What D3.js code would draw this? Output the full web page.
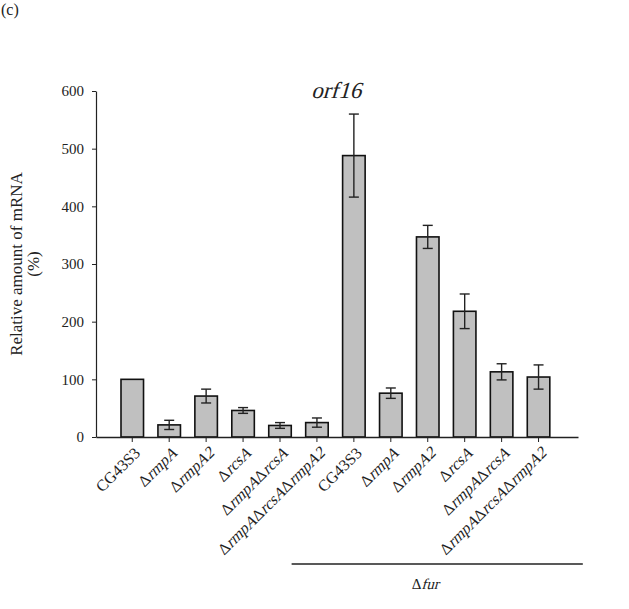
<!DOCTYPE html>
<html>
<head>
<meta charset="utf-8">
<script src="https://cdn.jsdelivr.net/npm/d3@7"></script>
<style>
  body { margin: 0; background: #fff; }
  svg text { font-family: "Liberation Serif", "DejaVu Serif", serif; fill: #222; }
</style>
</head>
<body>
<svg id="chart"></svg>
<script>
// strain labels as [text, italic] segments
const strains = [
  [['CG43S3', false]],
  [['Δ', false], ['rmpA', true]],
  [['Δ', false], ['rmpA2', true]],
  [['Δ', false], ['rcsA', true]],
  [['Δ', false], ['rmpA', true], ['Δ', false], ['rcsA', true]],
  [['Δ', false], ['rmpA', true], ['Δ', false], ['rcsA', true], ['Δ', false], ['rmpA2', true]],
  [['CG43S3', false]],
  [['Δ', false], ['rmpA', true]],
  [['Δ', false], ['rmpA2', true]],
  [['Δ', false], ['rcsA', true]],
  [['Δ', false], ['rmpA', true], ['Δ', false], ['rcsA', true]],
  [['Δ', false], ['rmpA', true], ['Δ', false], ['rcsA', true], ['Δ', false], ['rmpA2', true]]
];
const mrna = [100, 21, 71, 46, 20, 25, 488, 76, 347, 218, 113, 104];
const errs = [0, 8, 12, 5, 5, 8, 72, 9, 20, 30, 14, 21];
const yTicks = [0, 100, 200, 300, 400, 500, 600];

const width = 629, height = 609;
const margin = {top: 91, right: 51, bottom: 172, left: 96};
const innerW = width - margin.left - margin.right;
const innerH = height - margin.top - margin.bottom;
const serif = '"Liberation Serif", "DejaVu Serif", serif';

const svg = d3.select('#chart').attr('width', width).attr('height', height);
const chart = svg.append('g').attr('transform', `translate(${margin.left},${margin.top})`);

// serif text made of pieces; italic pieces are slanted with skewX
// (the italic face of the serif font is not available)
function richText(parent, segs, size, anchor) {
  const g = parent.append('g');
  let x = 0;
  segs.forEach(([s, it]) => {
    const t = g.append('text').style('font-size', size + 'px').text(s);
    const w = t.node().getComputedTextLength();
    t.attr('transform', `translate(${x},0)` + (it ? ' skewX(-16)' : ''));
    x += w;
  });
  const shift = anchor === 'end' ? -x : anchor === 'middle' ? -x / 2 : 0;
  g.attr('transform', `translate(${shift},0)`);
  return g;
}

const idx = d3.range(mrna.length);
const xscale = d3.scaleBand().domain(idx).range([0, innerW])
  .paddingInner(0.39).paddingOuter(0.72).align(0.47);
const yscale = d3.scaleLinear().domain([0, 600]).range([innerH, 0]);

// y axis
const yaxis = d3.axisLeft(yscale).tickValues(yTicks).tickSize(4).tickSizeOuter(0).tickPadding(8);
const yg = chart.append('g').call(yaxis).attr('font-family', serif);
yg.select('.domain').attr('stroke', '#222').attr('stroke-width', 1.2);
yg.selectAll('.tick line').attr('stroke', '#222');
yg.selectAll('.tick text').style('font-size', '15px').attr('fill', '#222');

// bars
chart.selectAll('rect.bar').data(idx).join('rect')
  .attr('class', 'bar')
  .attr('x', i => xscale(i))
  .attr('y', i => yscale(mrna[i]))
  .attr('width', xscale.bandwidth())
  .attr('height', i => innerH - yscale(mrna[i]))
  .attr('fill', '#c0c0c0')
  .attr('stroke', '#111')
  .attr('stroke-width', 1.6);

// error bars
const cap = 5;
const eg = chart.selectAll('g.err').data(idx.filter(i => errs[i] > 0)).join('g')
  .attr('class', 'err')
  .attr('transform', i => `translate(${xscale(i) + xscale.bandwidth() / 2},0)`)
  .attr('stroke', '#222').attr('stroke-width', 1.4);
eg.append('line').attr('x1', 0).attr('x2', 0)
  .attr('y1', i => yscale(mrna[i] + errs[i])).attr('y2', i => yscale(mrna[i] - errs[i]));
eg.append('line').attr('x1', -cap).attr('x2', cap)
  .attr('y1', i => yscale(mrna[i] + errs[i])).attr('y2', i => yscale(mrna[i] + errs[i]));
eg.append('line').attr('x1', -cap).attr('x2', cap)
  .attr('y1', i => yscale(mrna[i] - errs[i])).attr('y2', i => yscale(mrna[i] - errs[i]));

// x axis
const xaxis = d3.axisBottom(xscale).tickSize(5).tickSizeOuter(0).tickFormat('');
const xg = chart.append('g').attr('transform', `translate(0,${innerH})`).call(xaxis);
xg.select('.domain').attr('stroke', '#222').attr('stroke-width', 1.4);
xg.selectAll('.tick line').attr('stroke', '#222');

// rotated strain labels
idx.forEach(i => {
  const g = chart.append('g')
    .attr('transform', `translate(${xscale(i) + xscale.bandwidth() / 2 + 9},${innerH + 17}) rotate(-45)`);
  richText(g, strains[i], 16, 'end');
});

// Δfur group line
const furX0 = xscale(6) - 51, furX1 = xscale(11) + xscale.bandwidth() + 33;
svg.append('line')
  .attr('x1', margin.left + furX0).attr('x2', margin.left + furX1)
  .attr('y1', 564).attr('y2', 564)
  .attr('stroke', '#222').attr('stroke-width', 1.4);
const furG = svg.append('g')
  .attr('transform', `translate(${margin.left + (furX0 + furX1) / 2 - 12},589)`);
richText(furG, [['Δ', false], ['fur', true]], 15, 'middle');

// title
const titleG = svg.append('g').attr('transform', 'translate(336,98)');
richText(titleG, [['orf16', true]], 23, 'middle');

// y label
const ylab = svg.append('text')
  .attr('transform', 'translate(0,264) rotate(-90)')
  .attr('text-anchor', 'middle')
  .style('font-size', '17px');
ylab.append('tspan').attr('x', 0).attr('y', 22).text('Relative amount of mRNA');
ylab.append('tspan').attr('x', 0).attr('y', 39).text('(%)');

// panel tag
svg.append('text').attr('x', 1).attr('y', 15).style('font-size', '16px').text('(c)');
</script>
</body>
</html>
